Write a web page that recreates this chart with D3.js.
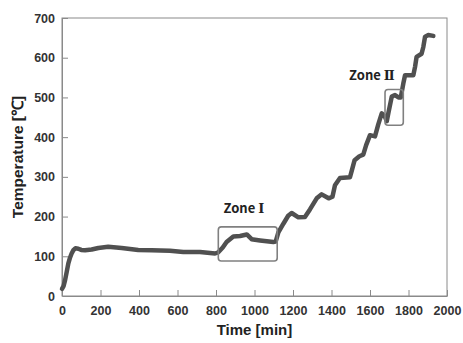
<!DOCTYPE html>
<html><head><meta charset="utf-8">
<script src="https://cdn.jsdelivr.net/npm/d3@7"></script>
<style>body{margin:0;background:#fff}svg{display:block}
.sans{font-family:"Liberation Sans",Arial,Helvetica,sans-serif;font-weight:bold}
.cjk{font-family:"Noto Sans CJK KR","Noto Sans CJK JP",sans-serif}
.ser{font-family:"DejaVu Serif","Liberation Serif",serif}
</style>
</head><body>
<script>
const timeMin = [0,8,16,25,33,42,50,60,70,85,100,120,154,189,240,310,396,466,561,630,717,795,812,835,855,890,925,960,985,1029,1098,1110,1124,1150,1175,1193,1228,1262,1288,1323,1349,1385,1405,1418,1444,1496,1505,1520,1545,1565,1580,1600,1626,1643,1661,1678,1687,1696,1713,1730,1748,1760,1773,1782,1825,1834,1842,1868,1877,1886,1903,1929];
const tempC = [18,25,40,62,82,97,107,116,120,119,116,115,117,121,124,121,116,115,114,111,111,107,110,122,136,150,151,155,143,140,136,137,160,182,202,209,198,199,218,246,256,246,250,279,297,299,315,342,352,356,380,405,402,432,460,451,440,462,502,506,500,500,535,556,556,577,602,610,627,653,657,655];
const xTicks = [0,200,400,600,800,1000,1200,1400,1600,1800,2000];
const yTicks = [0,100,200,300,400,500,600,700];
const zoneWords = ["Zone","Zone"];
const zoneNumerals = ["Ⅰ","Ⅱ"];
const zoneT0 = [812,1678], zoneT1 = [1118,1773];
const zoneLo = [88,430], zoneHi = [174,520];
const zoneLabelT = [945,1610], zoneLabelV = [220,556];

const W=463,H=343;
const m={l:62,r:16,t:18,b:47};
const svg=d3.select("body").append("svg").attr("width",W).attr("height",H);
const x=d3.scaleLinear().domain([0,2000]).range([m.l,W-m.r]);
const y=d3.scaleLinear().domain([0,700]).range([H-m.b,m.t]);
const frame="#8a8a8a";

svg.append("rect").attr("x",x(0)).attr("y",y(700)).attr("width",x(2000)-x(0)).attr("height",y(0)-y(700))
  .attr("fill","none").attr("stroke",frame).attr("stroke-width",1);

const xa=svg.append("g").attr("transform",`translate(0,${y(0)})`)
  .call(d3.axisBottom(x).tickValues(xTicks).tickFormat(d3.format("d")).tickSizeInner(-6).tickSizeOuter(0).tickPadding(10));
const ya=svg.append("g").attr("transform",`translate(${x(0)},0)`)
  .call(d3.axisLeft(y).tickValues(yTicks).tickFormat(d3.format("d")).tickSizeInner(-6).tickSizeOuter(0).tickPadding(7));
[xa,ya].forEach(a=>{
  a.attr("font-family",null).attr("font-size",null);
  a.select(".domain").attr("stroke",frame);
  a.selectAll(".tick line").attr("stroke",frame);
  a.selectAll(".tick text").attr("class","sans").attr("fill","#333").style("font-size","12.5px");
});
xa.select(".tick line").attr("opacity",0);
ya.select(".tick line").attr("opacity",0);

svg.append("path").datum(d3.range(timeMin.length))
  .attr("fill","none").attr("stroke","#505050").attr("stroke-width",4.5)
  .attr("stroke-linejoin","round").attr("stroke-linecap","round")
  .attr("d",d3.line().x(i=>x(timeMin[i])).y(i=>y(tempC[i])));

zoneWords.forEach((w,i)=>{
  svg.append("rect").attr("x",x(zoneT0[i])).attr("y",y(zoneHi[i]))
    .attr("width",x(zoneT1[i])-x(zoneT0[i])).attr("height",y(zoneLo[i])-y(zoneHi[i]))
    .attr("rx",3).attr("fill","none").attr("stroke","#808080").attr("stroke-width",1.6);
  const t=svg.append("text").attr("class","cjk").attr("x",x(zoneLabelT[i])).attr("y",y(zoneLabelV[i])).attr("dy","0.35em")
    .attr("text-anchor","middle").style("font-size","13px").style("font-weight","bold").attr("fill","#222");
  t.append("tspan").text(w+" ");
  t.append("tspan").attr("class","ser").style("font-weight","bold").text(zoneNumerals[i]);
});

svg.append("text").attr("class","sans").attr("x",(x(0)+x(2000))/2).attr("y",335).attr("text-anchor","middle")
  .style("font-size","15px").attr("fill","#222").text("Time [min]");
svg.append("text").attr("class","sans").attr("transform",`translate(23,${(y(0)+y(700))/2}) rotate(-90)`).attr("text-anchor","middle")
  .style("font-size","15.5px").attr("fill","#222").text("Temperature [℃]");
</script>
</body></html>
